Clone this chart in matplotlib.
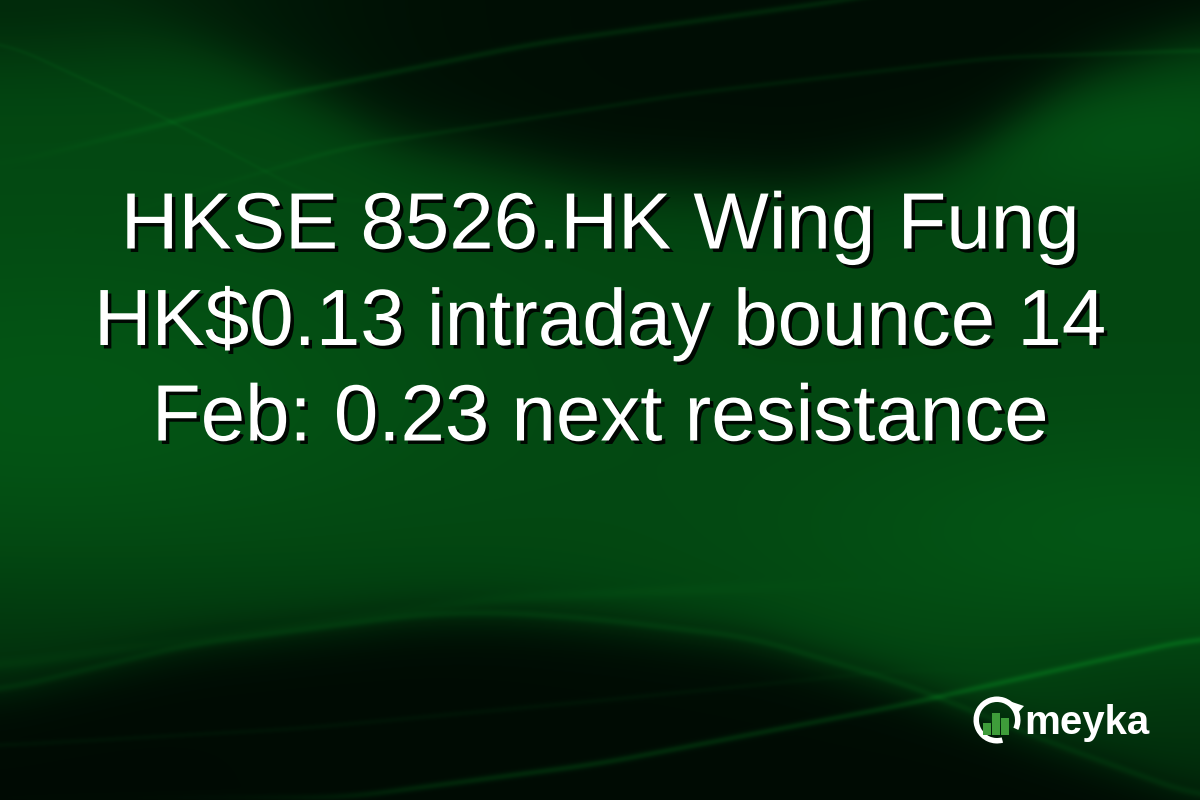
import numpy as np
import matplotlib
matplotlib.use("Agg")
import matplotlib.pyplot as plt
import matplotlib.patheffects as pe
from matplotlib.patches import Wedge, Rectangle, Polygon

# text content
title_lines = [
    "HKSE 8526.HK Wing Fung",
    "HK$0.13 intraday bounce 14",
    "Feb: 0.23 next resistance",
]
brand = "meyka"

# logo bar heights (relative)
logo_bars = [0.45, 0.85, 0.65]

W, H = 1200, 800

fig = plt.figure(figsize=(12, 8), dpi=100)
ax = fig.add_axes([0, 0, 1, 1])
ax.set_xlim(0, W)
ax.set_ylim(H, 0)
ax.axis("off")

# ---- background: green field, dark swooshes, thin light streaks ----
yy, xx = np.mgrid[0:H, 0:W].astype(float)
xs = np.arange(W, dtype=float)


def curve(px, py):
    c = np.interp(xs, px, py)
    k = np.ones(81) / 81
    c = np.convolve(np.pad(c, 40, mode="edge"), k, mode="valid")
    return c[None, :]


def sig(z):
    return 1.0 / (1.0 + np.exp(-z))


def streak(px, py, width, strength, x0=-1e9, x1=1e9):
    env = sig((xx - x0) / 60) * sig((x1 - xx) / 60)
    return strength * env * np.exp(-((yy - curve(px, py)) / width) ** 2)


f = np.ones((H, W))
# general glow: brighter on the left middle and right middle
f += 0.22 * np.exp(-((xx - 50) / 380) ** 2 - ((yy - 400) / 160) ** 2)
f += 0.25 * np.exp(-((xx - 1150) / 320) ** 2 - ((yy - 540) / 110) ** 2)
f += 0.18 * np.exp(-((xx - 1120) / 180) ** 2 - ((yy - 130) / 60) ** 2)
# lower-left gets darker towards the bottom
f *= 1 - 0.4 * sig((yy - 600) / 40) * sig((500 - xx) / 150)

# top dark lens
top_edge = curve([0, 200, 400, 600, 800, 950, 1080, 1200],
                 [-60, 40, 140, 182, 190, 160, 75, 35])
f *= 1 - 0.93 * sig((top_edge - yy) / 18) * sig((xx - 180) / 90)
# top-left corner a little darker
f *= 1 - 0.45 * np.exp(-(xx / 300) ** 2 - (yy / 70) ** 2)

# bottom dark hill
bot_edge = curve([0, 190, 420, 500, 600, 750, 900, 1050, 1200],
                 [693, 647, 617, 615, 622, 640, 685, 745, 800])
f *= 1 - 0.95 * sig((yy - bot_edge) / 14)
f *= 1 - 0.4 * np.exp(-((xx - 1200) / 260) ** 2 - ((yy - 800) / 150) ** 2)

# light streaks
f += streak([0, 268, 535, 842, 1000], [165, 97, 43, 0, -30], 3.5, 0.35, x0=150)
f += streak([0, 344, 689, 995, 1200], [250, 147, 93, 57, 50], 3, 0.22, x0=300)
f += streak([0, 150, 320], [40, 110, 200], 2.5, 0.12, x1=300)
f += streak([0, 190, 420, 500, 600, 750, 900, 1050, 1200],
            [690, 644, 614, 612, 619, 637, 682, 742, 797], 4, 0.22)
f += streak([0, 250, 500, 800], [665, 632, 598, 585], 6, 0.12, x1=750)
f += streak([0, 300, 600, 900], [745, 728, 700, 670], 3, 0.12, x1=850)
f += streak([344, 600, 900, 1200], [797, 763, 705, 637], 3.5, 0.45, x0=330)

f = np.clip(f, 0, 1.6)
dark = np.array([0.0, 0.035, 0.012])
mid = np.array([0.012, 0.28, 0.07])
img = dark + (mid - dark) * f[..., None]
img = np.clip(img, 0, 1)
ax.imshow(img, extent=[0, W, H, 0], aspect="auto", zorder=0)

# ---- title text with drop shadow ----
shadow = [pe.SimplePatchShadow(offset=(2.5, -2.5), shadow_rgbFace="black", alpha=0.9), pe.Normal()]
line_y = [228, 324, 420]
for txt, y in zip(title_lines, line_y):
    ax.text(W / 2, y, txt, ha="center", va="center", color="white",
            fontsize=57.5, family="Liberation Sans", path_effects=shadow, zorder=3)

# ---- logo: ring with arrow gap, green bars, wordmark ----
cx, cy, r = 997, 720, 23.5
ax.add_patch(Wedge((cx, cy), r, 75, 385, width=5.5, facecolor="white", edgecolor="none", zorder=4))
ax.add_patch(Polygon([[1012, 702], [1024, 706], [1015, 716]], closed=True,
                     facecolor="white", edgecolor="none", zorder=4))
bar_x = [983, 992, 1001]
for bx, bh in zip(bar_x, logo_bars):
    ax.add_patch(Rectangle((bx, 735 - 26 * bh), 7.5, 26 * bh, facecolor="#3e9c3a",
                           edgecolor="none", zorder=4))
ax.text(1024, 734, brand, ha="left", va="baseline", color="white", fontsize=29,
        fontweight="bold", family="Liberation Sans", zorder=4)

fig.savefig("out.png", dpi=100)
